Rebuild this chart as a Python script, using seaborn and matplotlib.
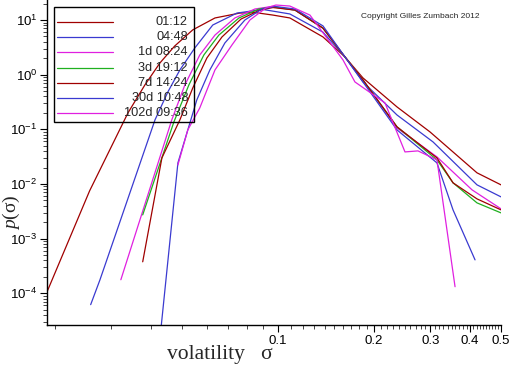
import matplotlib
matplotlib.use("Agg")
import matplotlib.pyplot as plt
from matplotlib.lines import Line2D
from matplotlib.patches import Rectangle
from matplotlib.ticker import FixedLocator, FixedFormatter, LogLocator, NullFormatter
import pandas as pd
import seaborn as sns

# ---------------------------------------------------------------------------
# Data
# ---------------------------------------------------------------------------
horizons = ["01:12", "04:48", "1d 08:24", "3d 19:12", "7d 14:24", "30d 10:48", "102d 09:36"]
colors = ["#a00000", "#3a3ad0", "#e020e0", "#20b020", "#a00000", "#3a3ad0", "#e020e0"]

sigma_0112 = [0.0189, 0.0257, 0.0339, 0.0383, 0.0427, 0.0475, 0.0541, 0.0635, 0.0760, 0.0847,
              0.0965, 0.1090, 0.1384, 0.1622, 0.1847, 0.2361, 0.2996, 0.4205, 0.5]
p_0112 = [1.06e-4, 7.48e-3, 0.200, 0.649, 1.64, 3.35, 6.6, 10.9, 13.4, 13.7,
          12.3, 10.9, 4.9, 2.11, 0.871, 0.257, 0.0896, 0.0160, 0.00964]

sigma_0448 = [0.0259, 0.0277, 0.0412, 0.0452, 0.0493, 0.0549, 0.0625, 0.0744, 0.0897,
              0.1090, 0.1384, 0.1622, 0.1847, 0.2361, 0.3061, 0.4205, 0.5]
p_0448 = [6.2e-5, 1.77e-4, 0.149, 0.483, 1.22, 3.08, 8.1, 13.4, 15.6,
          12.9, 6.0, 2.11, 0.736, 0.183, 0.0589, 0.00964, 0.00581]

sigma_1d = [0.0322, 0.0465, 0.0511, 0.0569, 0.0635, 0.0733, 0.0847, 0.0958, 0.1131,
            0.1384, 0.1622, 0.1847, 0.2361, 0.3150, 0.4058, 0.5]
p_1d = [1.77e-4, 0.149, 0.649, 2.29, 5.3, 10.9, 15.9, 17.7, 15.2,
        7.1, 2.11, 0.80, 0.106, 0.0313, 0.00780, 0.00351]

sigma_3d = [0.0377, 0.0472, 0.0526, 0.0586, 0.0653, 0.0755, 0.0872, 0.0965, 0.1131,
            0.1384, 0.1622, 0.1847, 0.2361, 0.3150, 0.3537, 0.4205, 0.5]
p_3d = [0.00272, 0.136, 0.649, 2.29, 5.3, 10.9, 15.9, 17.3, 15.2,
        7.1, 2.11, 0.80, 0.111, 0.0276, 0.0105, 0.00451, 0.00296]

sigma_7d = [0.0377, 0.0433, 0.0493, 0.0541, 0.0599, 0.0668, 0.0766, 0.0878, 0.0965,
            0.1131, 0.1384, 0.1622, 0.1847, 0.2361, 0.3150, 0.3537, 0.4205, 0.5]
p_7d = [3.77e-4, 0.0300, 0.149, 0.571, 2.02, 4.9, 10.4, 15.2, 16.9,
        15.2, 7.1, 2.11, 0.80, 0.111, 0.0300, 0.0105, 0.00534, 0.00336]

sigma_30d = [0.0425, 0.0486, 0.0557, 0.0612, 0.0682, 0.0788, 0.0891, 0.0979, 0.1131,
             0.1384, 0.1622, 0.1847, 0.2361, 0.3150, 0.3537, 0.4146]
p_30d = [1.15e-5, 0.0243, 0.345, 1.22, 3.8, 10.0, 15.9, 17.7, 15.9,
         7.8, 2.11, 0.736, 0.0975, 0.0243, 0.00336, 4.09e-4]

sigma_102d = [0.0486, 0.0522, 0.0569, 0.0635, 0.0718, 0.0817, 0.0917, 0.0986, 0.1090,
              0.1260, 0.1599, 0.1743, 0.2165, 0.2501, 0.2747, 0.3150, 0.3589]
p_102d = [0.0223, 0.0975, 0.246, 1.22, 3.5, 10.0, 16.6, 18.8, 18.0,
          12.3, 1.86, 0.736, 0.304, 0.0386, 0.0403, 0.0276, 1.32e-4]

series_sigma = [sigma_0112, sigma_0448, sigma_1d, sigma_3d, sigma_7d, sigma_30d, sigma_102d]
series_p = [p_0112, p_0448, p_1d, p_3d, p_7d, p_30d, p_102d]

major_xticks = [0.1, 0.2, 0.3, 0.4, 0.5]
major_xlabels = ["0.1", "0.2", "0.3", "0.4", "0.5"]
minor_xticks = [0.02, 0.03, 0.04, 0.05, 0.06, 0.07, 0.08, 0.09] + \
    [round(0.1 + 0.01 * k, 2) for k in range(1, 40) if k % 10 != 0]

# ---------------------------------------------------------------------------
# Plot
# ---------------------------------------------------------------------------
sns.set_style("ticks")
plt.rcParams["font.family"] = ["Liberation Sans", "DejaVu Sans"]
plt.rcParams["mathtext.fontset"] = "custom"
plt.rcParams["mathtext.it"] = "Liberation Serif:italic"
plt.rcParams["mathtext.rm"] = "Liberation Serif"

df = pd.concat(
    [pd.DataFrame({"sigma": s, "p": p, "horizon": h})
     for s, p, h in zip(series_sigma, series_p, horizons)],
    ignore_index=True,
)

W, H = 512, 366
fig = plt.figure(figsize=(W / 100, H / 100), dpi=100)
ax = fig.add_axes([47 / W, 41 / H, 454 / W, 325 / H])

for h, c in zip(horizons, colors):
    sns.lineplot(data=df[df["horizon"] == h], x="sigma", y="p", color=c,
                 sort=False, estimator=None, lw=0.9, ax=ax, legend=False)

ax.set_xscale("log")
ax.set_yscale("log")
ax.set_xlim(0.0189, 0.5)
ax.set_ylim(10 ** -4.58, 10 ** 1.366)
ax.set_xlabel("")
ax.set_ylabel("")

ax.xaxis.set_major_locator(FixedLocator(major_xticks))
ax.xaxis.set_major_formatter(FixedFormatter(major_xlabels))
ax.xaxis.set_minor_locator(FixedLocator(minor_xticks))
ax.xaxis.set_minor_formatter(NullFormatter())
ax.yaxis.set_major_locator(LogLocator(base=10))
ax.yaxis.set_minor_locator(LogLocator(base=10, subs=range(2, 10)))
ax.yaxis.set_minor_formatter(NullFormatter())

ax.tick_params(which="major", length=5, width=0.8, direction="out",
               labelsize=9.5, colors="black", pad=2)
ax.tick_params(which="minor", length=3, width=0.6, direction="out")
for side in ("top", "right"):
    ax.spines[side].set_visible(False)
for side in ("left", "bottom"):
    ax.spines[side].set_linewidth(1.0)
    ax.spines[side].set_color("black")

# hand-built legend: transparent box, handles left, labels right-aligned
fig.add_artist(Rectangle((54 / W, 1 - 122 / H), 140 / W, 115 / H,
                         transform=fig.transFigure, fill=False,
                         edgecolor="black", lw=1.0))
for i, (h, c) in enumerate(zip(horizons, colors)):
    y = 1 - (22 + 15.2 * i) / H
    fig.add_artist(Line2D([57 / W, 113 / W], [y, y], color=c, lw=0.9,
                          transform=fig.transFigure))
    fig.text(188 / W, y, h, fontsize=9.2, ha="right", va="center")

fig.text(420 / W, 1 - 16 / H, "Copyright Gilles Zumbach 2012",
         fontsize=6, ha="center", va="center")
fig.text(167 / W, 1 - 354 / H, "volatility   σ", fontsize=15.5,
         family="Liberation Serif", ha="left", va="center")
fig.text(11 / W, 1 - 212 / H, "$p$(σ)", fontsize=14,
         family="Liberation Serif", rotation=90, ha="center", va="center")

fig.savefig("out.png", dpi=100)
